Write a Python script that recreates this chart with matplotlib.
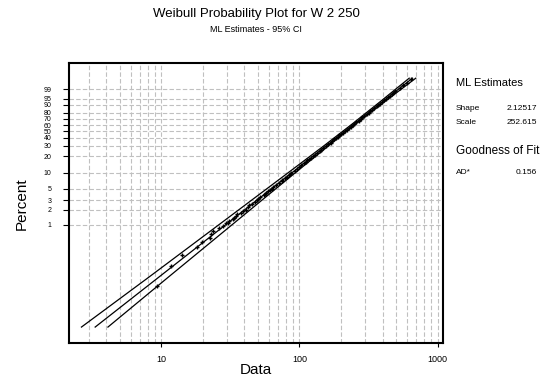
import numpy as np
import matplotlib
matplotlib.use("Agg")
import matplotlib.pyplot as plt
from matplotlib.ticker import FixedLocator, NullLocator, FixedFormatter

plt.rcParams['font.family'] = ['Liberation Sans', 'DejaVu Sans']

# fitted parameters shown in the side panel
shape = 2.12517
scale = 252.615
ad_stat = 0.156

# plotted sample points (percent, data value)
pts_pct = [0.064, 0.16, 0.256, 0.37, 0.46, 0.566, 0.67, 0.77, 0.87, 0.97,
           1.07, 1.1, 1.2, 1.28, 1.35, 1.5, 1.6, 1.7, 1.9, 2.0,
           2.2, 2.4, 2.6, 2.8, 3.0, 3.25, 3.5, 3.75, 4.0, 4.25,
           4.5, 4.75, 5, 5.5, 6, 6.5, 7, 7.5, 8, 8.5,
           9, 9.5, 10, 11, 12, 13, 14, 15, 16, 17,
           18, 19, 20, 21.5, 23, 24.5, 26, 28, 30, 32,
           34, 36, 38, 40, 42, 44, 46, 48, 50, 52.5,
           55, 57.5, 60, 62.5, 65, 67.5, 70, 72.5, 75, 77.5,
           80, 82, 84, 86, 88, 89.5, 91, 92.5, 94, 95,
           96, 96.8, 97.5, 98, 98.5, 99.2, 99.6, 99.8, 99.93]
pts_x = [9.31, 11.76, 14.13, 18.2, 19.7, 22.6, 23.0, 23.7, 26.3, 28.0,
         30.5, 29.6, 31.0, 33.2, 33.9, 34.6, 35.6, 37.8, 38.9, 40.9,
         42.8, 43.3, 45.0, 47.9, 49.5, 50.2, 52.0, 55.0, 56.8, 57.1,
         58.9, 61.5, 63.0, 64.8, 67.5, 71.5, 74.3, 75.4, 78.0, 81.5,
         83.8, 84.8, 87.0, 92.5, 96.6, 99.3, 103.2, 108.0, 111.6, 114.0,
         117.4, 122.0, 125.3, 129.0, 133.8, 139.7, 144.2, 149.0, 155.0, 162.0,
         167.8, 172.2, 178.0, 185.0, 190.5, 194.8, 200.5, 207.6, 213.2, 219.2,
         226.6, 235.6, 243.2, 249.5, 257.8, 267.7, 276.4, 284.1, 293.9, 305.8,
         316.8, 324.8, 335.2, 348.3, 360.8, 369.3, 381.1, 396.4, 412.0, 422.0,
         436.8, 453.5, 468.5, 478.4, 494.8, 532.0, 562.5, 599.5, 638.0]

# fitted line and 95% confidence bands (percent, data value)
fit_pct = [0.01, 99.95]
fit_x = [3.33, 657.4]
ci_pct = [0.01, 0.0911, 1, 10, 30.78, 63.2, 93.4, 99.95]
ci_lo_x = [2.65, 7.97, 26.0, 82.5, 152.1, 245.2, 389.4, 622.0]
ci_hi_x = [4.12, 11.04, 32.4, 92.9, 164.0, 260.3, 419.9, 694.0]

ytick_vals = [1, 2, 3, 5, 10, 20, 30, 40, 50, 60, 70, 80, 90, 95, 99]


def fwd(p):
    q = np.clip(1 - np.asarray(p, dtype=float) / 100.0, 1e-300, 1 - 1e-16)
    return np.log(-np.log(q))


def inv(w):
    return 100.0 * (1 - np.exp(-np.exp(np.asarray(w, dtype=float))))


fig = plt.figure(figsize=(5.5, 3.83), dpi=100)
ax = fig.add_axes([69 / 550, 1 - 343 / 383, (443 - 69) / 550, (343 - 63) / 383])

ax.set_xscale('log')
ax.set_yscale('function', functions=(fwd, inv))
ax.set_xlim(2.154, 1092)
ax.set_ylim(inv(-9.93), inv(2.714))

ax.plot(ci_lo_x, ci_pct, color='black', lw=0.9)
ax.plot(ci_hi_x, ci_pct, color='black', lw=0.9)
ax.plot(fit_x, fit_pct, color='black', lw=0.9)
ax.plot(pts_x, pts_pct, linestyle='none', marker='+', ms=3, mew=1.0, color='black')

ax.yaxis.set_major_locator(FixedLocator(ytick_vals))
ax.yaxis.set_major_formatter(FixedFormatter([str(v) for v in ytick_vals]))
ax.yaxis.set_minor_locator(NullLocator())
ax.xaxis.set_major_locator(FixedLocator([10, 100, 1000]))
ax.xaxis.set_major_formatter(FixedFormatter(['10', '100', '1000']))
ax.xaxis.set_minor_locator(FixedLocator([m * d for d in [1, 10, 100] for m in range(2, 10)]))

ax.grid(True, which='both', axis='x', color='#c0c0c0', linestyle=(0, (4, 2)), lw=0.8)
ax.grid(True, which='major', axis='y', color='#c0c0c0', linestyle=(0, (4, 2)), lw=0.8)
ax.set_axisbelow(True)

ax.tick_params(axis='y', which='major', length=4.5, width=0.8, labelsize=5, pad=8)
ax.tick_params(axis='x', which='major', length=3, width=0.8, labelsize=6.5, pad=6)
ax.tick_params(axis='x', which='minor', length=0)
for s in ax.spines.values():
    s.set_linewidth(1.5)

fig.text(256 / 550, 1 - 14.5 / 383, 'Weibull Probability Plot for W 2 250',
         ha='center', va='center', fontsize=9.5)
fig.text(256 / 550, 1 - 29.5 / 383, 'ML Estimates - 95% CI',
         ha='center', va='center', fontsize=6.5)
fig.text(21.5 / 550, 1 - 204 / 383, 'Percent', rotation=90,
         ha='center', va='center', fontsize=11)
fig.text(256 / 550, 1 - 370 / 383, 'Data', ha='center', va='center', fontsize=11)

# side panel with estimates
lx = 456 / 550
rx = 537 / 550
fig.text(lx, 1 - 83 / 383, 'ML Estimates', ha='left', va='center', fontsize=8)
fig.text(lx, 1 - 108 / 383, 'Shape', ha='left', va='center', fontsize=6)
fig.text(rx, 1 - 108 / 383, f'{shape:.5f}', ha='right', va='center', fontsize=6)
fig.text(lx, 1 - 122.7 / 383, 'Scale', ha='left', va='center', fontsize=6)
fig.text(rx, 1 - 122.7 / 383, f'{scale:.3f}', ha='right', va='center', fontsize=6)
fig.text(lx, 1 - 150.7 / 383, 'Goodness of Fit', ha='left', va='center', fontsize=8.5)
fig.text(lx, 1 - 172 / 383, 'AD*', ha='left', va='center', fontsize=6)
fig.text(rx, 1 - 172 / 383, f'{ad_stat:.3f}', ha='right', va='center', fontsize=6)

fig.savefig('out.png', dpi=100)
